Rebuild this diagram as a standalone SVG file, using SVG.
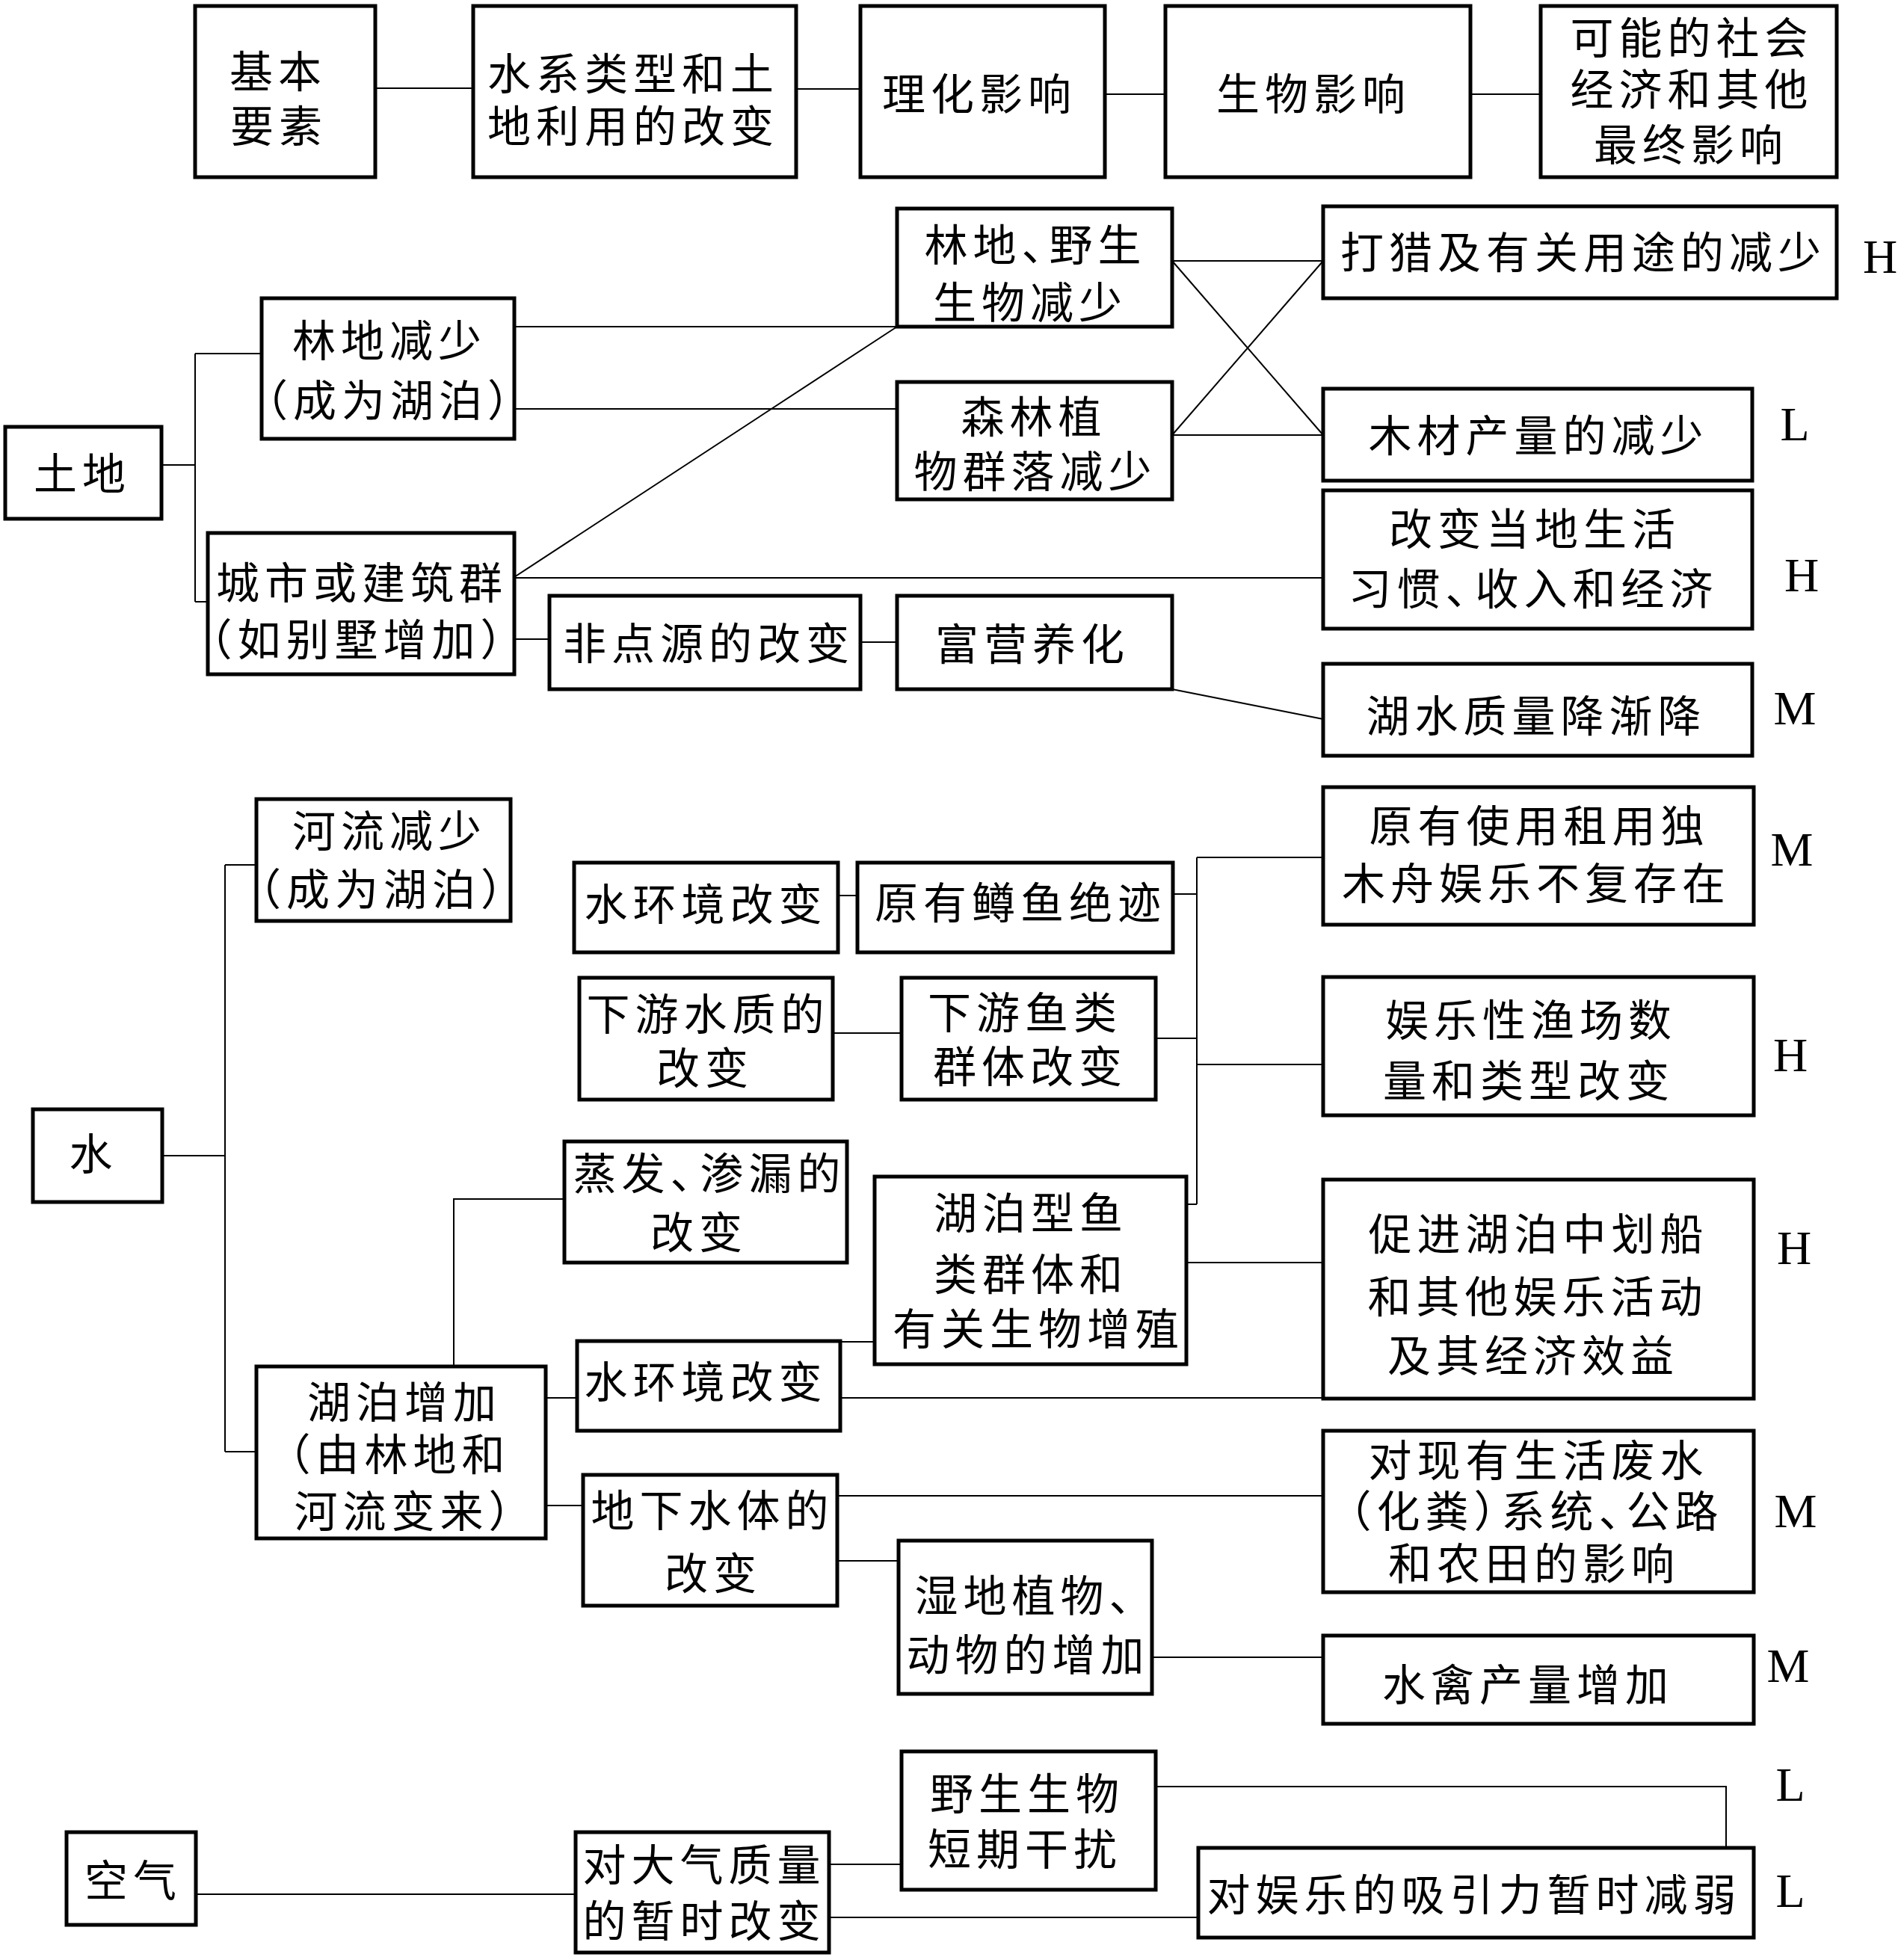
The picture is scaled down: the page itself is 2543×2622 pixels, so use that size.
<svg xmlns="http://www.w3.org/2000/svg" width="2543" height="2622" viewBox="0 0 2543 2622">
<style>
.box{fill:#fff;stroke:#000;stroke-width:5}
.t{font-family:"Noto Sans CJK SC","Noto Sans CJK TC",sans-serif;font-size:58px;letter-spacing:7px;text-anchor:middle;fill:#000}
.g{font-family:"Liberation Serif","Times New Roman",serif;font-size:64px;text-anchor:middle;fill:#000}
.c{stroke:#000;stroke-width:2;fill:none}
</style>
<rect width="2543" height="2622" fill="#fff"/>
<g id="connectors" class="c">
<path d="M502 118H633M1065 119H1151M1478 126H1559M1967 126H2061"/>
<path d="M216 622H261M261 473V805M261 473H350M261 805H278"/>
<path d="M688 437H1200M688 547H1200M688 772L1200 437M688 773H1770M688 855H735M1151 859H1200M1568 922L1770 962"/>
<path d="M1568 349H1770M1568 349L1770 582M1568 582L1770 349M1568 582H1770"/>
<path d="M217 1546H301M301 1157V1942M301 1157H343M301 1942H343"/>
<path d="M607 1828V1604H755M730 1870H772M1124 1870H1770M1124 1795H1170M730 2014H780M1120 2001H1770M1120 2088H1202M1541 2217H1770"/>
<path d="M1121 1198H1147M1114 1382H1206M1569 1196H1601M1546 1389H1601M1587 1611H1601M1601 1147V1611M1601 1147H1770M1601 1424H1770M1587 1689H1770"/>
<path d="M262 2534H770M1109 2494H1206M1109 2565H1603M1546 2390H2309V2472"/>
</g>
<g id="n_basic"><rect class="box" x="261" y="8" width="241" height="229"/><text class="t"><tspan x="372" y="117">基本</tspan><tspan x="373" y="190">要素</tspan></text></g>
<g id="n_hydro"><rect class="box" x="633" y="8" width="432" height="229"/><text class="t"><tspan x="847" y="120">水系类型和土</tspan><tspan x="847" y="190">地利用的改变</tspan></text></g>
<g id="n_phys"><rect class="box" x="1151" y="8" width="327" height="229"/><text class="t" x="1310" y="147">理化影响</text></g>
<g id="n_bio"><rect class="box" x="1559" y="8" width="408" height="229"/><text class="t" x="1757" y="147">生物影响</text></g>
<g id="n_final"><rect class="box" x="2061" y="8" width="396" height="229"/><text class="t"><tspan x="2263" y="72">可能的社会</tspan><tspan x="2263" y="141">经济和其他</tspan><tspan x="2262" y="215">最终影响</tspan></text></g>
<g id="n_land"><rect class="box" x="7" y="571" width="209" height="123"/><text class="t" x="110" y="655">土地</text></g>
<g id="n_forest_dec"><rect class="box" x="350" y="399" width="338" height="188"/><text class="t"><tspan x="521" y="477">林地减少</tspan><tspan x="522" y="557">（成为湖泊）</tspan></text></g>
<g id="n_urban"><rect class="box" x="278" y="713" width="410" height="189"/><text class="t"><tspan x="484" y="801">城市或建筑群</tspan><tspan x="480" y="877">（如别墅增加）</tspan></text></g>
<g id="n_wild_dec"><rect class="box" x="1200" y="279" width="368" height="158"/><text class="t"><tspan x="1385" y="349">林地、<tspan dx="-28">野生</tspan></tspan><tspan x="1378" y="426">生物减少</tspan></text></g>
<g id="n_forest_comm"><rect class="box" x="1200" y="511" width="368" height="157"/><text class="t"><tspan x="1383" y="579">森林植</tspan><tspan x="1385" y="652">物群落减少</tspan></text></g>
<g id="n_hunt"><rect class="box" x="1770" y="276" width="687" height="123"/><text class="t" x="2118" y="359">打猎及有关用途的减少</text></g>
<g id="n_timber"><rect class="box" x="1770" y="520" width="574" height="123"/><text class="t" x="2058" y="604">木材产量的减少</text></g>
<g id="n_local"><rect class="box" x="1770" y="656" width="574" height="185"/><text class="t"><tspan x="2053" y="729">改变当地生活</tspan><tspan x="2051" y="809">习惯、<tspan dx="-25">收入和经济</tspan></tspan></text></g>
<g id="n_nonpoint"><rect class="box" x="735" y="797" width="416" height="125"/><text class="t" x="948" y="882">非点源的改变</text></g>
<g id="n_eutro"><rect class="box" x="1200" y="797" width="368" height="125"/><text class="t" x="1381" y="883">富营养化</text></g>
<g id="n_lakeq"><rect class="box" x="1770" y="888" width="574" height="123"/><text class="t" x="2055" y="979">湖水质量降渐降</text></g>
<g id="n_water"><rect class="box" x="44" y="1484" width="173" height="124"/><text class="t" x="125" y="1565">水</text></g>
<g id="n_river"><rect class="box" x="343" y="1069" width="340" height="163"/><text class="t"><tspan x="521" y="1133">河流减少</tspan><tspan x="513" y="1211">（成为湖泊）</tspan></text></g>
<g id="n_waterenv1"><rect class="box" x="768" y="1154" width="353" height="120"/><text class="t" x="944" y="1231">水环境改变</text></g>
<g id="n_trout"><rect class="box" x="1147" y="1154" width="422" height="120"/><text class="t" x="1365" y="1229">原有鳟鱼绝迹</text></g>
<g id="n_downq"><rect class="box" x="775" y="1308" width="339" height="163"/><text class="t"><tspan x="947" y="1378">下游水质的</tspan><tspan x="943" y="1450">改变</tspan></text></g>
<g id="n_downfish"><rect class="box" x="1206" y="1308" width="340" height="163"/><text class="t"><tspan x="1371" y="1376">下游鱼类</tspan><tspan x="1378" y="1448">群体改变</tspan></text></g>
<g id="n_evap"><rect class="box" x="755" y="1527" width="378" height="162"/><text class="t"><tspan x="949" y="1591">蒸发、<tspan dx="-25">渗漏的</tspan></tspan><tspan x="935" y="1670">改变</tspan></text></g>
<g id="n_lakefish"><rect class="box" x="1170" y="1574" width="417" height="251"/><text class="t"><tspan x="1379" y="1644">湖泊型鱼</tspan><tspan x="1379" y="1726">类群体和</tspan><tspan x="1389" y="1799">有关生物增殖</tspan></text></g>
<g id="n_lakeinc"><rect class="box" x="343" y="1828" width="387" height="230"/><text class="t"><tspan x="541" y="1897">湖泊增加</tspan><tspan x="520" y="1967">（由林地和</tspan><tspan x="556" y="2043">河流变来）</tspan></text></g>
<g id="n_waterenv2"><rect class="box" x="772" y="1794" width="352" height="120"/><text class="t" x="944" y="1870">水环境改变</text></g>
<g id="n_ground"><rect class="box" x="780" y="1973" width="340" height="175"/><text class="t"><tspan x="953" y="2042">地下水体的</tspan><tspan x="954" y="2126">改变</tspan></text></g>
<g id="n_wetland"><rect class="box" x="1202" y="2061" width="339" height="205"/><text class="t"><tspan x="1386" y="2156">湿地植物、</tspan><tspan x="1375" y="2235">动物的增加</tspan></text></g>
<g id="n_canoe"><rect class="box" x="1770" y="1053" width="576" height="184"/><text class="t"><tspan x="2059" y="1126">原有使用租用独</tspan><tspan x="2055" y="1203">木舟娱乐不复存在</tspan></text></g>
<g id="n_fishery"><rect class="box" x="1770" y="1307" width="576" height="185"/><text class="t"><tspan x="2048" y="1386">娱乐性渔场数</tspan><tspan x="2045" y="1467">量和类型改变</tspan></text></g>
<g id="n_boating"><rect class="box" x="1770" y="1578" width="576" height="293"/><text class="t"><tspan x="2058" y="1672">促进湖泊中划船</tspan><tspan x="2057" y="1756">和其他娱乐活动</tspan><tspan x="2051" y="1835">及其经济效益</tspan></text></g>
<g id="n_sewage"><rect class="box" x="1770" y="1914" width="576" height="216"/><text class="t"><tspan x="2058" y="1975">对现有生活废水</tspan><tspan x="2041" y="2043">（化粪）<tspan dx="-28">系统、</tspan><tspan dx="-28">公路</tspan></tspan><tspan x="2052" y="2113">和农田的影响</tspan></text></g>
<g id="n_waterfowl"><rect class="box" x="1770" y="2188" width="576" height="118"/><text class="t" x="2044" y="2275">水禽产量增加</text></g>
<g id="n_air"><rect class="box" x="89" y="2451" width="173" height="124"/><text class="t" x="178" y="2537">空气</text></g>
<g id="n_atmo"><rect class="box" x="770" y="2451" width="339" height="161"/><text class="t"><tspan x="942" y="2516">对大气质量</tspan><tspan x="942" y="2591">的暂时改变</tspan></text></g>
<g id="n_wildlife"><rect class="box" x="1206" y="2343" width="340" height="185"/><text class="t"><tspan x="1374" y="2421">野生生物</tspan><tspan x="1371" y="2495">短期干扰</tspan></text></g>
<g id="n_attract"><rect class="box" x="1603" y="2472" width="743" height="120"/><text class="t" x="1972" y="2556">对娱乐的吸引力暂时减弱</text></g>
<g id="labels">
<text class="g" x="2515" y="365">H</text>
<text class="g" x="2401" y="589">L</text>
<text class="g" x="2410" y="791">H</text>
<text class="g" x="2401" y="969">M</text>
<text class="g" x="2397" y="1158">M</text>
<text class="g" x="2395" y="1433">H</text>
<text class="g" x="2400" y="1691">H</text>
<text class="g" x="2402" y="2043">M</text>
<text class="g" x="2392" y="2250">M</text>
<text class="g" x="2395" y="2409">L</text>
<text class="g" x="2395" y="2551">L</text>
</g>
</svg>
